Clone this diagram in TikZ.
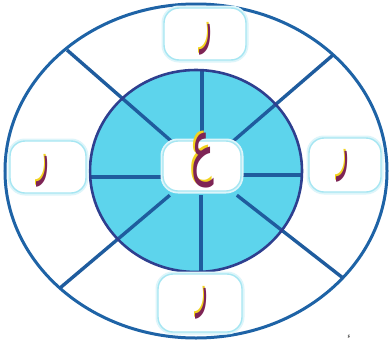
\documentclass[tikz,border=0pt]{standalone}
\usepackage{fontspec}
\usepackage{graphicx}
\newfontfamily\arabicfont[Script=Arabic]{DejaVu Sans}
\TeXXeTstate=1
\definecolor{rim}{HTML}{1E63A6}
\definecolor{spokec}{HTML}{1F5C9E}
\definecolor{innerline}{HTML}{2E3F8F}
\definecolor{innerfill}{HTML}{5DD4EC}
\definecolor{boxline}{HTML}{A6E6F2}
\definecolor{boxglow}{HTML}{DDF5FA}
\definecolor{letterc}{HTML}{7E2455}
\definecolor{shade}{HTML}{F2D21E}
\newcommand{\shadedglyph}[4]{% #1 size, #2 xscale, #3 yscale, #4 letter
  \smash{\scalebox{#2}[#3]{\arabicfont\fontsize{#1}{#1}\selectfont
  \rlap{\kern-2pt\raisebox{1.2pt}{\color{shade}\beginR #4\endR}}{\color{letterc}\beginR #4\endR}}}}
\tikzset{
  rimline/.style={draw=rim,line width=3pt},
  spokeline/.style={draw=spokec,line width=3.4pt},
  letterbox/.style={draw=boxline,line width=1.4pt,fill=white,rounded corners=15pt,
     minimum width=80pt,minimum height=52pt,inner sep=0pt,
     preaction={draw=boxglow,line width=5pt}},
  lettertxt/.style={inner sep=0pt,anchor=base}
}
\begin{document}
\begin{tikzpicture}[x=1pt,y=-1pt]
\useasboundingbox (0,0) rectangle (390,343);
% outer ellipse
\draw[rimline,fill=white] (196,171) ellipse [x radius=191, y radius=167];
% inner disc
\fill[innerfill] (196,171) ellipse [x radius=106, y radius=101];
% central box outline used for spoke ends
\path (202,168) node[minimum width=80pt,minimum height=54pt] (cbox) {};
% spoke end coordinates
\coordinate (ul) at (67,50);
\coordinate (ur) at (333,55);
\coordinate (ll) at (60,288);
\coordinate (lr) at (343,278);
\coordinate (tt) at (202,70);
\coordinate (bb) at (201,271);
\coordinate (lf) at (91,177);
\coordinate (rt) at (303,175);
% spokes
\draw[spokeline] (ul) -- (cbox);
\draw[spokeline] (ur) -- (cbox);
\draw[spokeline] (ll) -- (cbox);
\draw[spokeline] (lr) -- (cbox);
\draw[spokeline] (tt) -- (tt |- cbox.north);
\draw[spokeline] (bb) -- (bb |- cbox.south);
\draw[spokeline] (lf) -- (lf -| cbox.west);
\draw[spokeline] (rt) -- (rt -| cbox.east);
% inner circle outline
\draw[innerline,line width=2.6pt] (196,171) ellipse [x radius=106, y radius=101];
% boxes
\node[letterbox,minimum width=78pt,minimum height=50pt] (cb) at (202,166) {};
\node[letterbox,minimum width=82pt,minimum height=52pt] (tb) at (205,34) {};
\node[letterbox,minimum width=76pt,minimum height=52pt] (lb) at (48,167) {};
\node[letterbox,minimum width=72pt,minimum height=54pt] (rb) at (345,165) {};
\node[letterbox,minimum width=84pt,minimum height=58pt] (bbx) at (200,303) {};
% letters
\node[lettertxt] (tl) at (206,40) {\shadedglyph{40}{0.6}{1.5}{ر}};
\node[lettertxt] (ll2) at (43,172) {\shadedglyph{40}{0.6}{1.5}{ر}};
\node[lettertxt] (rl) at (343,167) {\shadedglyph{40}{0.6}{1.5}{ر}};
\node[lettertxt] (bl) at (202,304) {\shadedglyph{40}{0.6}{1.5}{ر}};
\node[lettertxt] (cl) at (203,170) {\shadedglyph{48}{0.8}{1.5}{ع}};
% small mark
\node[text=black!80,font=\arabicfont\fontsize{7}{7}\selectfont] (mk) at (349,337) {\beginR ء\endR};
\end{tikzpicture}
\end{document}
